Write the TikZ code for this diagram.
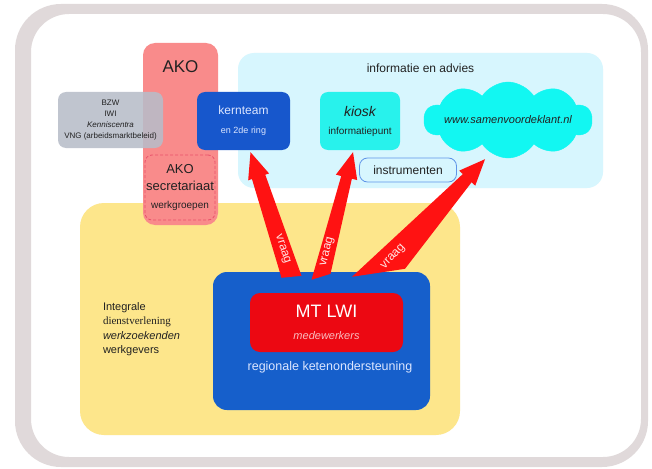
\documentclass[tikz,border=0pt]{standalone}
\usepackage{fontspec}
\setmainfont{Liberation Sans}
\newfontfamily\schreef{Liberation Serif}
\usetikzlibrary{positioning,calc,shapes.symbols}
\definecolor{kader}{HTML}{E0D9DA}
\definecolor{geel}{HTML}{FDE68B}
\definecolor{lichtblauw}{HTML}{D7F6FE}
\definecolor{akoroze}{HTML}{F98B8B}
\definecolor{grijs}{HTML}{B8BDC9}
\definecolor{streeprood}{HTML}{E9506A}
\definecolor{kernblauw}{HTML}{1757CC}
\definecolor{kioskcyaan}{HTML}{28F2EC}
\definecolor{wolkcyaan}{HTML}{12F7F2}
\definecolor{randblauw}{HTML}{5F94E8}
\definecolor{mtblauw}{HTML}{165FCB}
\definecolor{mtrood}{HTML}{EC0812}
\definecolor{pijlrood}{HTML}{FF1212}
\definecolor{tekstlicht}{HTML}{DCE6FF}
\definecolor{roosje}{HTML}{F9BDC0}
\definecolor{vraagwit}{HTML}{FFE4E4}
\definecolor{inkt}{HTML}{222222}
% base left, base right, tip, neck half width, label position
\newcommand\vraagpijl[5]{%
  \coordinate (m) at ($(#1)!0.5!(#2)$);
  \coordinate (n) at ($(#3)!26pt!(m)$);
  \fill[pijl] (#1) -- ($(n)!#4!90:(#3)$) -- ($(n)!11pt!90:(#3)$) -- (#3)
    -- ($(n)!11pt!-90:(#3)$) -- ($(n)!#4!-90:(#3)$) -- (#2) -- cycle;
  \path (m) -- (#3) node[vraagtekst,pos=#5,sloped] {vraag};}

\tikzset{
  vlak/.style={rectangle, rounded corners=16pt, inner sep=0pt},
  doos/.style={rectangle, rounded corners=8pt, inner sep=0pt, align=center, text=inkt},
  tekst/.style={inner sep=0pt, text=inkt},
  pijl/.style={fill=pijlrood},
  vraagtekst/.style={inner sep=0pt, text=vraagwit, font=\fontsize{12}{12}\selectfont},
}

\begin{document}
\begin{tikzpicture}[x=1pt,y=-1pt]
\useasboundingbox (0,0) rectangle (652,468);
\fill[white] (0,0) rectangle (652,468);
% frame
\fill[kader, even odd rule] [rounded corners=46pt] (15,4) rectangle (648,467)
  [rounded corners=38pt] (31,14) rectangle (641,457);

% regions
\node[vlak, fill=geel, minimum width=380pt, minimum height=232pt, rounded corners=24pt] (klanten) at (270,319) {};
\node[vlak, fill=lichtblauw, minimum width=365pt, minimum height=135pt] (info) at (420.5,120.5) {};
\node[tekst, below=11pt of info.north, font=\fontsize{12}{12}\selectfont] (infotitel) {informatie en advies};
\node[vlak, fill=akoroze, minimum width=75pt, minimum height=182pt, rounded corners=12pt] (ako) at (180.5,134) {};
\node[tekst, below=18pt of ako.north, font=\fontsize{17}{17}\selectfont] (akotitel) {AKO};

% AKO
\node[doos, fill=grijs, fill opacity=0.88, text opacity=1, minimum width=105pt, minimum height=56pt,
  font=\fontsize{8}{10.8}\selectfont] (partners) at (110.5,120)
  {BZW\\IWI\\\textit{Kenniscentra}\\VNG (arbeidsmarktbeleid)};
\node[doos, draw=streeprood, dash pattern=on 3pt off 2pt, line width=0.8pt, rounded corners=7pt,
  minimum width=70pt, minimum height=65pt] (secretariaat) at (180,187.5)
  {{\fontsize{13}{13}\selectfont AKO}\\[5pt]{\fontsize{13}{13}\selectfont secretariaat}\\[6pt]{\fontsize{10}{10}\selectfont werkgroepen}};

% informatie en advies
\node[doos, fill=kernblauw, text=tekstlicht, minimum width=93pt, minimum height=58pt] (kernteam) at (243.5,121)
  {{\fontsize{12}{12}\selectfont kernteam}\\[7pt]{\fontsize{9}{9}\selectfont en 2de ring}};
\node[doos, fill=kioskcyaan, minimum width=80pt, minimum height=58pt] (kiosk) at (360,121)
  {{\fontsize{14}{14}\selectfont\itshape kiosk}\\[6pt]{\fontsize{10}{10}\selectfont informatiepunt}};
\node[cloud, cloud puffs=10, cloud puff arc=115, aspect=2.3, fill=wolkcyaan, draw=wolkcyaan,
  minimum width=168pt, minimum height=76pt, inner sep=0pt] (wolk) at (508,120) {};
\node[tekst, font=\fontsize{11}{11}\selectfont\itshape] (website) at (wolk.center) {www.samenvoordeklant.nl};
\node[doos, draw=randblauw, fill=lichtblauw, line width=0.8pt, minimum width=97pt, minimum height=24pt,
  font=\fontsize{12}{12}\selectfont] (instrumenten) at (408,170) {instrumenten};

% klanten
\node[tekst, anchor=west, align=left, font=\fontsize{11}{14.5}\selectfont] (klanttekst) at ($(klanten.west)+(23,10)$)
  {Integrale\\{\schreef dienstverlening}\\\textit{werkzoekenden}\\werkgevers};
\node[doos, fill=mtblauw, minimum width=217pt, minimum height=138pt, rounded corners=14pt] (mt) at (321.5,341) {};
\node[doos, fill=mtrood, text=white, minimum width=153pt, minimum height=59pt, rounded corners=10pt] (lwi) at (326.5,322.5)
  {{\fontsize{18}{18}\selectfont MT LWI}\\[10pt]{\fontsize{11}{11}\selectfont\itshape\color{roosje}medewerkers}};
\node[tekst, text=tekstlicht, font=\fontsize{12.5}{12.5}\selectfont] (keten) at (330,367) {regionale ketenondersteuning};

% vraag arrows
\coordinate (v1l) at ($(mt.north)+(-40,6)$);
\coordinate (v1r) at ($(mt.north)+(-20,4)$);
\coordinate (v1t) at ($(kernteam.south)+(7,2)$);
\coordinate (v2l) at ($(mt.north)+(-10,8)$);
\coordinate (v2r) at ($(mt.north)+(9,2)$);
\coordinate (v2t) at ($(kiosk.south)+(-7,2)$);
\coordinate (v3l) at ($(mt.north)+(30.5,5)$);
\coordinate (v3r) at ($(mt.north)+(83.5,-3)$);
\coordinate (v3t) at ($(wolk.south)+(-23,1)$);
\vraagpijl{v1l}{v1r}{v1t}{7pt}{0.22}
\vraagpijl{v2l}{v2r}{v2t}{5.5pt}{0.2}
\vraagpijl{v3l}{v3r}{v3t}{6pt}{0.14}
\end{tikzpicture}
\end{document}
